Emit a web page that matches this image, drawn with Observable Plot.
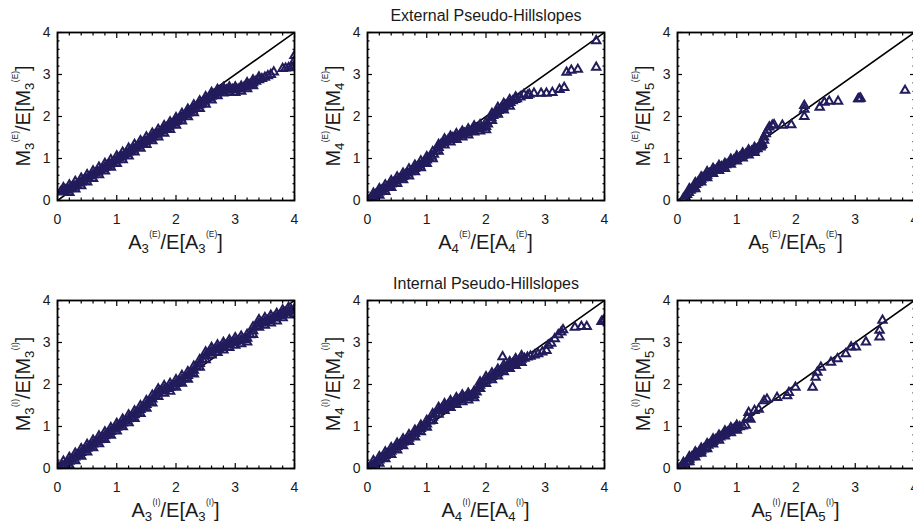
<!DOCTYPE html>
<html>
<head>
<meta charset="utf-8">
<script src="https://cdn.jsdelivr.net/npm/d3@7"></script>
<script src="https://cdn.jsdelivr.net/npm/@observablehq/plot@0.6"></script>
<style>
  html, body { margin: 0; padding: 0; background: #fff; }
  #wrap { position: relative; width: 913px; height: 525px; overflow: hidden; font-family: "Liberation Sans", Arial, Helvetica, sans-serif; color: #1a1a1a; }
  .panel { position: absolute; width: 310px; height: 257px; }
  .panel svg { max-width: none !important; width: 310px; height: 257px; }
  .title { position: absolute; font-size: 16px; line-height: 1; white-space: nowrap; transform: translateX(-50%); }
  .xl, .yl { position: absolute; font-size: 20px; line-height: 1; white-space: nowrap; }
  .xl { transform: translateX(-50%); }
  .yl { transform: translate(-50%, -50%) rotate(-90deg); }
  .sb { font-size: 0.66em; position: relative; top: 0.28em; }
  .sp { font-size: 0.42em; position: relative; top: -1.45em; margin-left: 0.05em; }
</style>
</head>
<body>
<div id="wrap"></div>
<script>
// ---------- data ----------
const axisTicks = [0, 1, 2, 3, 4];
const minorTicks = [0.2,0.4,0.6,0.8,1.2,1.4,1.6,1.8,2.2,2.4,2.6,2.8,3.2,3.4,3.6,3.8];
const diagonal = [0, 4];

const groupTitles = ["External Pseudo-Hillslopes", "Internal Pseudo-Hillslopes"];
const groupTags = ["E", "I"];
const orders = ["3", "4", "5"];

// ---- External, order 3 ----
const ext3X = [0.05,0.08,0.1,0.13,0.16,0.2,0.24,0.28,0.32,0.36,0.4,0.44,0.48,0.52,0.56,0.6,0.64,0.68,0.72,0.76,0.8,0.84,0.88,0.92,0.96,1.0,1.04,1.08,1.12,1.16,1.2,1.24,1.28,1.32,1.36,1.4,1.44,1.48,1.52,1.56,1.6,1.64,1.68,1.72,1.76,1.8,1.84,1.88,1.92,1.96,2.0,2.04,2.08,2.12,2.16,2.2,2.24,2.28,2.32,2.36,2.4,2.44,2.48,2.52,2.56,2.6,2.64,2.68,2.72,2.76,2.8,2.85,2.9,2.95,3.0,3.05,3.1,3.15,3.2,3.25,3.3,3.35,3.4,3.45,3.5,3.55,3.6,3.65,3.8,3.85,3.9,3.95,4.0,4.0,4.0];
const ext3Y = [0.2,0.22,0.21,0.25,0.24,0.28,0.31,0.34,0.37,0.41,0.44,0.47,0.51,0.54,0.58,0.61,0.65,0.68,0.72,0.75,0.79,0.83,0.86,0.9,0.93,0.97,1.01,1.04,1.08,1.11,1.15,1.19,1.22,1.26,1.29,1.33,1.37,1.4,1.44,1.47,1.51,1.55,1.58,1.62,1.65,1.69,1.73,1.76,1.8,1.84,1.88,1.92,1.96,2.0,2.04,2.08,2.12,2.16,2.2,2.24,2.28,2.32,2.36,2.4,2.44,2.48,2.52,2.56,2.59,2.61,2.62,2.63,2.63,2.64,2.63,2.65,2.67,2.7,2.73,2.76,2.8,2.84,2.87,2.9,2.93,2.97,3.0,3.06,3.14,3.15,3.16,3.18,3.22,3.33,3.45];
const ext3HiX = [0.1,0.2,0.3,0.4,0.5,0.6,0.7,0.8,0.9,1.0,1.1,1.2,1.3,1.4,1.5,1.6,1.7,1.8,1.9,2.0,2.1,2.2,2.3,2.4,2.5,2.6,2.7,2.8,2.9,3.0,3.1,3.2,3.3,3.4];
const ext3HiY = [0.3,0.37,0.45,0.53,0.61,0.7,0.79,0.88,0.97,1.06,1.15,1.24,1.33,1.42,1.51,1.6,1.69,1.78,1.87,1.97,2.07,2.17,2.27,2.37,2.47,2.57,2.64,2.69,2.7,2.7,2.72,2.8,2.87,2.94];
const ext3LoX = [0.2,0.3,0.4,0.5,0.6,0.7,0.8,0.9,1.0,1.1,1.2,1.3,1.4,1.5,1.6,1.7,1.8,1.9,2.0,2.1,2.2,2.3,2.4,2.5,2.6,2.7,2.8,2.9,3.0,3.1,3.2,3.3];
const ext3LoY = [0.19,0.27,0.35,0.44,0.52,0.61,0.7,0.79,0.88,0.97,1.06,1.15,1.24,1.33,1.42,1.51,1.6,1.69,1.79,1.89,1.99,2.09,2.19,2.29,2.39,2.49,2.56,2.57,2.57,2.6,2.66,2.73];

// ---- External, order 4 ----
const ext4X = [0.02,0.05,0.08,0.11,0.14,0.17,0.2,0.24,0.28,0.32,0.36,0.4,0.44,0.48,0.52,0.56,0.6,0.64,0.68,0.72,0.76,0.8,0.84,0.88,0.92,0.96,1.0,1.04,1.08,1.12,1.16,1.2,1.24,1.28,1.32,1.36,1.4,1.44,1.48,1.52,1.56,1.6,1.64,1.68,1.72,1.76,1.8,1.84,1.88,1.92,1.96,2.0,2.03,2.06,2.09,2.12,2.15,2.18,2.21,2.25,2.29,2.33,2.37,2.41,2.45,2.49,2.52,2.58,2.64,2.7,2.73,2.81,2.93,3.02,3.12,3.24,3.32,3.36,3.44,3.55,3.86,3.86];
const ext4Y = [0.0,0.04,0.07,0.1,0.14,0.17,0.2,0.24,0.27,0.31,0.35,0.39,0.42,0.46,0.5,0.53,0.57,0.61,0.65,0.68,0.72,0.76,0.8,0.84,0.88,0.92,0.96,1.0,1.05,1.1,1.18,1.26,1.33,1.38,1.41,1.44,1.46,1.49,1.51,1.53,1.56,1.58,1.6,1.62,1.64,1.67,1.7,1.71,1.72,1.73,1.74,1.76,1.82,1.9,1.97,2.02,2.06,2.1,2.14,2.18,2.22,2.26,2.3,2.33,2.37,2.4,2.42,2.46,2.52,2.5,2.53,2.55,2.55,2.55,2.57,2.64,2.69,3.05,3.1,3.12,3.17,3.8];
const ext4HiX = [0.1,0.2,0.3,0.4,0.5,0.6,0.7,0.8,0.9,1.0,1.1,1.2,1.3,1.4,1.5,1.6,1.7,1.8,1.9,2.0,2.1,2.2,2.3,2.4,2.5];
const ext4HiY = [0.17,0.28,0.37,0.47,0.56,0.65,0.75,0.84,0.94,1.04,1.16,1.33,1.46,1.53,1.59,1.65,1.7,1.77,1.8,1.86,2.07,2.21,2.31,2.4,2.46];
const ext4LoX = [0.1,0.2,0.3,0.4,0.5,0.6,0.7,0.8,0.9,1.0,1.1,1.2,1.3,1.4,1.5,1.6,1.7,1.8,1.9,2.0,2.1,2.2,2.3,2.4];
const ext4LoY = [0.02,0.12,0.21,0.31,0.4,0.49,0.58,0.68,0.78,0.88,0.99,1.17,1.32,1.39,1.45,1.51,1.56,1.63,1.65,1.68,1.9,2.05,2.15,2.24];

// ---- External, order 5 ----
const ext5X = [0.1,0.13,0.16,0.19,0.22,0.25,0.28,0.31,0.34,0.37,0.4,0.43,0.46,0.5,0.54,0.58,0.62,0.66,0.7,0.74,0.78,0.82,0.86,0.9,0.95,1.0,1.05,1.1,1.15,1.2,1.25,1.3,1.35,1.4,1.43,1.42,1.46,1.41,1.46,1.49,1.52,1.55,1.6,1.63,1.77,1.92,2.14,2.14,2.14,2.4,2.48,2.56,2.71,3.05,3.07,3.09,3.84];
const ext5Y = [0.05,0.1,0.14,0.19,0.24,0.28,0.33,0.38,0.42,0.46,0.5,0.54,0.57,0.6,0.64,0.68,0.71,0.74,0.77,0.8,0.82,0.85,0.88,0.92,0.96,1.0,1.03,1.07,1.1,1.14,1.17,1.2,1.23,1.27,1.33,1.38,1.43,1.31,1.51,1.59,1.67,1.75,1.79,1.8,1.79,1.8,2.0,2.17,2.26,2.22,2.34,2.36,2.36,2.42,2.42,2.43,2.62];
const ext5HiX = [0.2,0.3,0.4,0.5,0.6,0.7,0.8,0.9,1.0,1.1,1.2,1.3,1.4];
const ext5HiY = [0.28,0.42,0.56,0.68,0.76,0.83,0.88,0.98,1.06,1.13,1.2,1.26,1.33];
const ext5LoX = [0.3,0.4,0.5,0.6,0.7,0.8,0.9,1.0,1.1,1.2,1.3];
const ext5LoY = [0.28,0.44,0.54,0.64,0.71,0.76,0.86,0.94,1.01,1.08,1.14];

// ---- Internal, order 3 ----
const int3X = [0.02,0.05,0.08,0.12,0.16,0.2,0.25,0.3,0.35,0.4,0.45,0.5,0.55,0.6,0.65,0.7,0.75,0.8,0.85,0.9,0.95,1.0,1.05,1.1,1.15,1.2,1.25,1.3,1.35,1.4,1.45,1.5,1.55,1.6,1.65,1.7,1.75,1.8,1.85,1.9,1.95,2.0,2.05,2.1,2.15,2.2,2.25,2.3,2.35,2.4,2.45,2.5,2.55,2.6,2.65,2.7,2.75,2.8,2.85,2.9,2.95,3.0,3.05,3.1,3.15,3.2,3.25,3.3,3.35,3.4,3.45,3.5,3.55,3.6,3.65,3.7,3.75,3.8,3.85,3.9,3.95,4.0,4.0];
const int3Y = [0.02,0.0,0.06,0.09,0.13,0.17,0.22,0.27,0.33,0.38,0.43,0.48,0.53,0.58,0.63,0.68,0.73,0.78,0.83,0.88,0.93,0.98,1.03,1.08,1.13,1.18,1.23,1.28,1.34,1.4,1.46,1.52,1.58,1.65,1.73,1.8,1.85,1.88,1.9,1.93,1.97,2.02,2.07,2.12,2.16,2.21,2.27,2.34,2.42,2.5,2.6,2.68,2.75,2.79,2.82,2.85,2.88,2.91,2.94,2.97,3.0,3.02,3.04,3.06,3.07,3.1,3.18,3.28,3.38,3.45,3.47,3.5,3.52,3.55,3.58,3.6,3.64,3.68,3.71,3.74,3.77,3.8,3.68];
const int3HiX = [0.1,0.2,0.3,0.4,0.5,0.6,0.7,0.8,0.9,1.0,1.1,1.2,1.3,1.4,1.5,1.6,1.7,1.8,1.9,2.0,2.1,2.2,2.3,2.4,2.5,2.6,2.7,2.8,2.9,3.0,3.1,3.2,3.3,3.4,3.5,3.6,3.7,3.8,3.9];
const int3HiY = [0.17,0.26,0.36,0.47,0.57,0.67,0.77,0.87,0.97,1.07,1.17,1.27,1.37,1.49,1.61,1.74,1.89,1.97,2.02,2.11,2.21,2.3,2.43,2.59,2.77,2.88,2.94,3.0,3.06,3.11,3.15,3.19,3.37,3.54,3.59,3.64,3.69,3.77,3.83];
const int3LoX = [0.2,0.3,0.4,0.5,0.6,0.7,0.8,0.9,1.0,1.1,1.2,1.3,1.4,1.5,1.6,1.7,1.8,1.9,2.0,2.1,2.2,2.3,2.4,2.5,2.6,2.7,2.8,2.9,3.0,3.1,3.2,3.3,3.4,3.5,3.6,3.7,3.8,3.9];
const int3LoY = [0.08,0.18,0.29,0.39,0.49,0.59,0.69,0.79,0.89,0.99,1.09,1.19,1.31,1.43,1.56,1.71,1.79,1.84,1.93,2.03,2.12,2.25,2.41,2.59,2.7,2.76,2.82,2.88,2.93,2.97,3.01,3.19,3.36,3.41,3.46,3.51,3.59,3.65];

// ---- Internal, order 4 ----
const int4X = [0.02,0.05,0.08,0.11,0.15,0.2,0.25,0.3,0.35,0.4,0.45,0.5,0.55,0.6,0.65,0.7,0.75,0.8,0.85,0.9,0.95,1.0,1.05,1.1,1.15,1.2,1.25,1.3,1.35,1.4,1.45,1.5,1.55,1.6,1.65,1.7,1.75,1.8,1.84,1.87,1.9,1.95,2.0,2.05,2.1,2.15,2.2,2.25,2.3,2.35,2.4,2.45,2.5,2.55,2.6,2.65,2.7,2.28,2.75,2.82,2.88,2.95,3.02,3.05,3.1,3.16,3.22,3.27,3.3,3.5,3.61,3.7,3.95,3.98,4.0];
const int4Y = [0.0,0.03,0.06,0.1,0.14,0.2,0.26,0.31,0.36,0.41,0.46,0.52,0.57,0.62,0.67,0.72,0.77,0.83,0.89,0.95,1.0,1.06,1.13,1.22,1.3,1.37,1.42,1.46,1.5,1.53,1.56,1.6,1.64,1.67,1.69,1.71,1.73,1.76,1.82,1.92,1.98,2.04,2.1,2.15,2.19,2.24,2.28,2.33,2.38,2.42,2.46,2.5,2.53,2.56,2.6,2.62,2.65,2.66,2.67,2.7,2.73,2.77,2.81,2.93,2.98,3.09,3.18,3.25,3.3,3.36,3.38,3.38,3.5,3.52,3.55];
const int4HiX = [0.1,0.2,0.3,0.4,0.5,0.6,0.7,0.8,0.9,1.0,1.1,1.2,1.3,1.4,1.5,1.6,1.7,1.8,1.9,2.0,2.1,2.2,2.3,2.4,2.5,2.6];
const int4HiY = [0.18,0.28,0.39,0.49,0.6,0.7,0.8,0.91,1.03,1.14,1.3,1.45,1.54,1.61,1.68,1.75,1.79,1.84,2.06,2.18,2.27,2.36,2.46,2.54,2.61,2.68];
const int4LoX = [0.1,0.2,0.3,0.4,0.5,0.6,0.7,0.8,0.9,1.0,1.1,1.2,1.3,1.4,1.5,1.6,1.7,1.8,1.9,2.0,2.1,2.2,2.3,2.4,2.5,2.6];
const int4LoY = [0.02,0.12,0.23,0.33,0.44,0.54,0.64,0.75,0.87,0.98,1.14,1.29,1.38,1.45,1.52,1.59,1.63,1.68,1.9,2.02,2.11,2.2,2.3,2.38,2.45,2.52];

// ---- Internal, order 5 ----
const int5X = [0.03,0.06,0.09,0.12,0.16,0.2,0.24,0.28,0.32,0.36,0.4,0.44,0.48,0.52,0.56,0.6,0.64,0.68,0.72,0.76,0.8,0.84,0.88,0.92,0.96,1.0,1.05,1.1,1.15,1.18,1.2,1.23,1.3,1.37,1.46,1.51,1.68,1.85,1.88,1.99,2.28,2.33,2.36,2.42,2.59,2.7,2.84,2.93,3.01,3.18,3.41,3.41,3.46];
const int5Y = [0.0,0.02,0.05,0.1,0.16,0.22,0.27,0.31,0.35,0.38,0.42,0.46,0.5,0.55,0.6,0.64,0.68,0.72,0.75,0.79,0.83,0.86,0.89,0.92,0.95,0.97,0.99,1.01,1.03,1.21,1.33,1.17,1.38,1.41,1.61,1.65,1.69,1.73,1.81,1.93,1.93,2.17,2.29,2.41,2.53,2.61,2.73,2.89,2.89,3.01,3.13,3.29,3.53];
const int5HiX = [0.1,0.2,0.3,0.4,0.5,0.6,0.7,0.8,0.9,1.0];
const int5HiY = [0.14,0.28,0.39,0.48,0.59,0.7,0.79,0.89,0.97,1.03];
const int5LoX = [0.2,0.3,0.4,0.5,0.6,0.7,0.8,0.9,1.0];
const int5LoY = [0.16,0.27,0.36,0.47,0.58,0.67,0.77,0.85,0.91];

const panelSeries = [
  [[[ext3X, ext3Y], [ext3HiX, ext3HiY], [ext3LoX, ext3LoY]],
   [[ext4X, ext4Y], [ext4HiX, ext4HiY], [ext4LoX, ext4LoY]],
   [[ext5X, ext5Y], [ext5HiX, ext5HiY], [ext5LoX, ext5LoY]]],
  [[[int3X, int3Y], [int3HiX, int3HiY], [int3LoX, int3LoY]],
   [[int4X, int4Y], [int4HiX, int4HiY], [int4LoX, int4LoY]],
   [[int5X, int5Y], [int5HiX, int5HiY], [int5LoX, int5LoY]]]
];

// ---------- drawing ----------
const navy = "#221c5c";
const wrap = document.getElementById("wrap");

function makePanel(series) {
  const pts = series.flatMap(([xs, ys]) => xs.map((x, i) => ({x, y: ys[i]})));
  const tickStyle = {stroke: "#000", strokeWidth: 1.2, text: null, label: null};
  return Plot.plot({
    width: 310, height: 257,
    marginLeft: 57, marginRight: 16, marginTop: 32, marginBottom: 57,
    x: {domain: [0, 4]},
    y: {domain: [0, 4]},
    style: {fontFamily: "'Liberation Sans', Arial, Helvetica, sans-serif", fontSize: "14px", color: "#1a1a1a", background: "transparent", overflow: "visible"},
    marks: [
      Plot.line(diagonal, {x: d => d, y: d => d, stroke: "#000", strokeWidth: 1.6, clip: true}),
      Plot.dot(pts, {x: "x", y: "y", symbol: "triangle", r: 3.1, stroke: navy, strokeWidth: 2, fill: "none", clip: true}),
      Plot.axisX(axisTicks, {anchor: "bottom", tickSize: 0, tickPadding: 14, label: null, fontSize: 14}),
      Plot.axisY(axisTicks, {anchor: "left", tickSize: 0, tickPadding: 7, label: null, fontSize: 14}),
      Plot.axisX(axisTicks, {anchor: "bottom", tickSize: -5, ...tickStyle}),
      Plot.axisX(axisTicks, {anchor: "top", tickSize: -5, ...tickStyle}),
      Plot.axisY(axisTicks, {anchor: "left", tickSize: -5, ...tickStyle}),
      Plot.axisY(axisTicks, {anchor: "right", tickSize: -5, ...tickStyle}),
      Plot.axisX(minorTicks, {anchor: "bottom", tickSize: -2.5, ...tickStyle}),
      Plot.axisX(minorTicks, {anchor: "top", tickSize: -2.5, ...tickStyle}),
      Plot.axisY(minorTicks, {anchor: "left", tickSize: -2.5, ...tickStyle}),
      Plot.axisY(minorTicks, {anchor: "right", tickSize: -2.5, ...tickStyle}),
      Plot.frame({stroke: "#000", strokeWidth: 1.8})
    ]
  });
}

function labelHTML(letter, order, tag) {
  const part = `${letter}<span class="sb">${order}</span><span class="sp">(${tag})</span>`;
  return `${part}/E[${part}]`;
}

const colLeft = [0, 310, 620];
const rowTop = [0, 268];

for (let r = 0; r < 2; r++) {
  for (let c = 0; c < 3; c++) {
    const svg = makePanel(panelSeries[r][c]);
    const holder = document.createElement("div");
    holder.className = "panel";
    holder.style.left = colLeft[c] + "px";
    holder.style.top = rowTop[r] + "px";
    holder.appendChild(svg);
    wrap.appendChild(holder);

    const frameL = colLeft[c] + 57, frameR = colLeft[c] + 294;
    const frameT = rowTop[r] + 32, frameB = rowTop[r] + 200;

    const xl = document.createElement("div");
    xl.className = "xl";
    xl.innerHTML = labelHTML("A", orders[c], groupTags[r]);
    xl.style.left = ((frameL + frameR) / 2) + "px";
    xl.style.top = (frameB + 32) + "px";
    wrap.appendChild(xl);

    const yl = document.createElement("div");
    yl.className = "yl";
    yl.innerHTML = labelHTML("M", orders[c], groupTags[r]);
    yl.style.left = (frameL - 34) + "px";
    yl.style.top = ((frameT + frameB) / 2) + "px";
    wrap.appendChild(yl);
  }
  const t = document.createElement("div");
  t.className = "title";
  t.textContent = groupTitles[r];
  t.style.left = "486px";
  t.style.top = (rowTop[r] + 8) + "px";
  wrap.appendChild(t);
}
</script>
</body>
</html>
